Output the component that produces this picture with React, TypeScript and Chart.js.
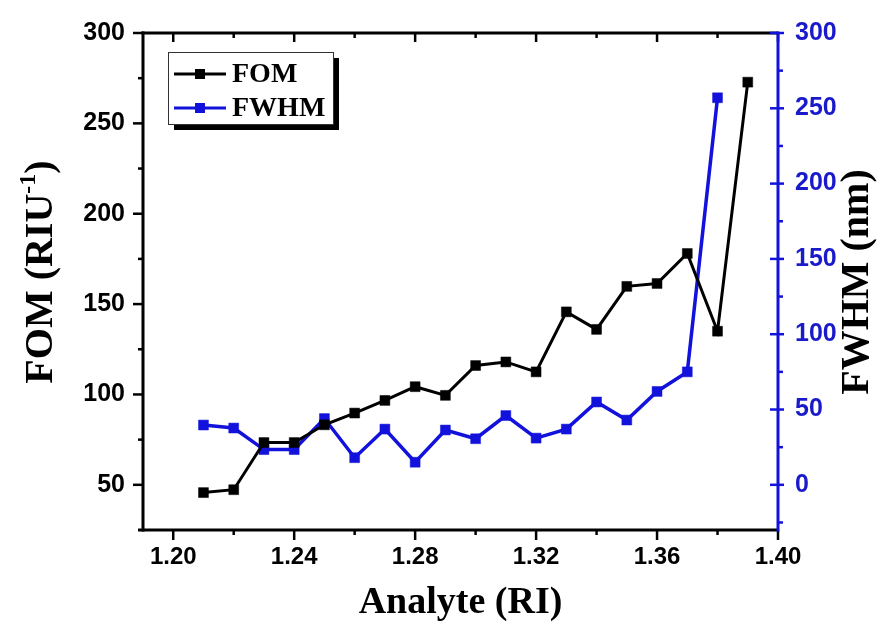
import { useEffect, useRef } from "react";
import { Chart, registerables } from "chart.js";

Chart.register(...registerables);

// ---- data ----
const riValues = [1.21, 1.22, 1.23, 1.24, 1.25, 1.26, 1.27, 1.28, 1.29, 1.3, 1.31, 1.32, 1.33, 1.34, 1.35, 1.36, 1.37, 1.38, 1.39];
const fomValues = [45.7, 47.3, 73.4, 73.4, 83.2, 89.7, 96.7, 104.3, 99.5, 116, 118, 112.5, 145.7, 136, 159.8, 161.4, 178, 135, 272.8];
const fwhmRi = [1.21, 1.22, 1.23, 1.24, 1.25, 1.26, 1.27, 1.28, 1.29, 1.3, 1.31, 1.32, 1.33, 1.34, 1.35, 1.36, 1.37, 1.38];
const fwhmValues = [39.7, 37.7, 23.4, 23.4, 44, 18, 37, 15, 36.4, 30.6, 46, 31, 37, 55, 43, 62, 75, 257];
const xTickValues = [1.2, 1.24, 1.28, 1.32, 1.36, 1.4];
const xMinorValues = [1.2, 1.22, 1.24, 1.26, 1.28, 1.3, 1.32, 1.34, 1.36, 1.38, 1.4];
const leftTickValues = [50, 100, 150, 200, 250, 300];
const leftMinorValues = [50, 75, 100, 125, 150, 175, 200, 225, 250, 275, 300];
const rightTickValues = [0, 50, 100, 150, 200, 250, 300];
const rightMinorValues = [-25, 0, 25, 50, 75, 100, 125, 150, 175, 200, 225, 250, 275, 300];

const BLUE = "#1212dc";
const BLUE_TEXT = "#1a1acb";
const SERIF = "'Liberation Serif', 'Times New Roman', serif";
const SANS = "'Liberation Sans', Arial, sans-serif";

const framePlugin = {
  id: "frame",
  beforeDatasetsDraw(chart: any) {
    const { ctx, chartArea: a, scales } = chart;
    const x = scales.x;
    const yl = scales.yL;
    const yr = scales.yR;
    const line = (x1: number, y1: number, x2: number, y2: number) => {
      ctx.beginPath();
      ctx.moveTo(x1, y1);
      ctx.lineTo(x2, y2);
      ctx.stroke();
    };
    ctx.save();
    ctx.lineCap = "butt";
    ctx.strokeStyle = "#000";
    ctx.lineWidth = 2.5;
    xMinorValues.forEach((v, i) => {
      const px = x.getPixelForValue(v);
      const major = i % 2 === 0;
      line(px, a.bottom, px, a.bottom + (major ? 10 : 5));
      line(px, a.top, px, a.top + (major ? 9 : 5));
    });
    leftMinorValues.forEach((v) => {
      const py = yl.getPixelForValue(v);
      const len = v % 50 === 0 ? 10 : 5;
      line(a.left - len, py, a.left, py);
    });
    ctx.lineWidth = 3;
    line(a.left - 5, a.bottom, a.right, a.bottom);
    line(a.left - 1.5, a.top, a.right, a.top);
    line(a.left, a.top - 1.5, a.left, a.bottom + 1.5);
    ctx.strokeStyle = BLUE;
    ctx.lineWidth = 2.5;
    rightMinorValues.forEach((v) => {
      const py = yr.getPixelForValue(v);
      if (v % 50 === 0) line(a.right - 8, py, a.right + 6, py);
      else line(a.right, py, a.right + 5, py);
    });
    ctx.lineWidth = 3;
    line(a.right, a.top - 1.5, a.right, a.bottom + 1.5);
    ctx.restore();
  },
  afterDatasetsDraw(chart: any) {
    const { ctx, chartArea: a } = chart;
    ctx.save();
    ctx.fillStyle = "#000";
    ctx.textBaseline = "alphabetic";
    ctx.font = `bold 38px ${SERIF}`;
    ctx.textAlign = "center";
    ctx.fillText("Analyte (RI)", (a.left + a.right) / 2, 613);

    ctx.save();
    ctx.translate(52, 272);
    ctx.rotate(-Math.PI / 2);
    const big = `bold 40px ${SERIF}`;
    const small = `bold 24px ${SERIF}`;
    ctx.font = big;
    const p1 = "FOM (RIU";
    const p3 = ")";
    const w1 = ctx.measureText(p1).width;
    const w3 = ctx.measureText(p3).width;
    ctx.font = small;
    const p2 = "-1";
    const w2 = ctx.measureText(p2).width;
    const total = w1 + w2 + w3;
    let cx = -total / 2;
    ctx.textAlign = "left";
    ctx.font = big;
    ctx.fillText(p1, cx, 0);
    cx += w1;
    ctx.font = small;
    ctx.fillText(p2, cx, -17);
    cx += w2;
    ctx.font = big;
    ctx.fillText(p3, cx, 0);
    ctx.restore();

    ctx.save();
    ctx.translate(868, 282);
    ctx.rotate(-Math.PI / 2);
    ctx.font = big;
    ctx.textAlign = "center";
    ctx.fillText("FWHM (nm)", 0, 0);
    ctx.restore();

    const bx = 168, by = 52, bw = 165, bh = 72;
    ctx.fillStyle = "#000";
    ctx.fillRect(bx + 6, by + 6, bw, bh);
    ctx.fillStyle = "#fff";
    ctx.fillRect(bx, by, bw, bh);
    ctx.strokeStyle = "#333";
    ctx.lineWidth = 1;
    ctx.strokeRect(bx + 0.5, by + 0.5, bw, bh);
    const items = chart.data.datasets;
    items.forEach((ds: any, i: number) => {
      const ly = i === 0 ? 74 : 108;
      ctx.strokeStyle = ds.borderColor;
      ctx.lineWidth = 3;
      ctx.beginPath();
      ctx.moveTo(174, ly);
      ctx.lineTo(226, ly);
      ctx.stroke();
      ctx.fillStyle = ds.borderColor;
      ctx.fillRect(195, ly - 5, 10, 10);
      ctx.fillStyle = "#000";
      ctx.font = `bold 28px ${SERIF}`;
      ctx.textAlign = "left";
      ctx.textBaseline = "middle";
      ctx.fillText(ds.label, 232, ly + 1);
    });
    ctx.restore();
  },
};

export default function App() {
  const ref = useRef<HTMLCanvasElement | null>(null);
  useEffect(() => {
    document.body.style.margin = "0";
    const canvas = ref.current;
    if (!canvas) return;
    const chart = new Chart(canvas, {
      type: "line",
      data: {
        datasets: [
          {
            label: "FOM",
            data: riValues.map((x, i) => ({ x, y: fomValues[i] })),
            borderColor: "#000000",
            backgroundColor: "#000000",
            borderWidth: 3,
            pointStyle: "rect",
            pointRadius: 7,
            pointHoverRadius: 7,
            pointBorderWidth: 0.5,
            yAxisID: "yL",
            tension: 0,
          },
          {
            label: "FWHM",
            data: fwhmRi.map((x, i) => ({ x, y: fwhmValues[i] })),
            borderColor: BLUE,
            backgroundColor: BLUE,
            borderWidth: 3.5,
            pointStyle: "rect",
            pointRadius: 7,
            pointHoverRadius: 7,
            pointBorderWidth: 0.5,
            yAxisID: "yR",
            tension: 0,
          },
        ],
      },
      options: {
        responsive: false,
        animation: false,
        devicePixelRatio: 1,
        layout: { padding: { top: 23, left: 0, right: 0, bottom: 0 } },
        plugins: { legend: { display: false }, tooltip: { enabled: false } },
        scales: {
          x: {
            type: "linear",
            min: 1.19,
            max: 1.4,
            grid: { display: false, drawTicks: false },
            border: { display: false },
            afterBuildTicks: (s: any) => {
              s.ticks = xTickValues.map((v) => ({ value: v }));
            },
            afterFit: (s: any) => {
              s.height = 107;
            },
            ticks: {
              padding: 13,
              color: "#000",
              maxRotation: 0,
              autoSkip: false,
              font: { family: SANS, weight: "bold", size: 24 },
              callback: (v: any) => Number(v).toFixed(2),
            },
          },
          yL: {
            type: "linear",
            position: "left",
            min: 25,
            max: 300,
            grid: { display: false, drawTicks: false },
            border: { display: false },
            afterBuildTicks: (s: any) => {
              s.ticks = leftTickValues.map((v) => ({ value: v }));
            },
            afterFit: (s: any) => {
              s.width = 143;
            },
            ticks: {
              padding: 18,
              color: "#000",
              autoSkip: false,
              font: { family: SANS, weight: "bold", size: 25 },
            },
          },
          yR: {
            type: "linear",
            position: "right",
            min: -30,
            max: 300,
            grid: { display: false, drawTicks: false },
            border: { display: false },
            afterBuildTicks: (s: any) => {
              s.ticks = rightTickValues.map((v) => ({ value: v }));
            },
            afterFit: (s: any) => {
              s.width = 108;
            },
            ticks: {
              padding: 17,
              color: BLUE_TEXT,
              autoSkip: false,
              font: { family: SANS, weight: "bold", size: 25 },
            },
          },
        },
      },
      plugins: [framePlugin],
    } as any);
    return () => chart.destroy();
  }, []);
  return (
    <div style={{ width: 886, height: 637, background: "#fff" }}>
      <canvas ref={ref} width={886} height={637} />
    </div>
  );
}
